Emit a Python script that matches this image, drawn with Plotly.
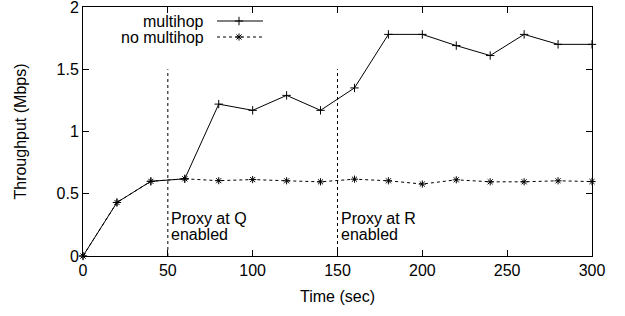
import plotly.graph_objects as go

time_s = [0, 20, 40, 60, 80, 100, 120, 140, 160, 180, 200, 220, 240, 260, 280, 300]
multihop = [0.0, 0.43, 0.60, 0.62, 1.22, 1.17, 1.29, 1.17, 1.35, 1.78, 1.78, 1.69, 1.61, 1.78, 1.70, 1.70]
no_multihop = [0.0, 0.43, 0.60, 0.62, 0.605, 0.614, 0.604, 0.596, 0.617, 0.604, 0.578, 0.612, 0.596, 0.596, 0.604, 0.598]
proxy_times = [50, 150]
proxy_label_line1 = ["Proxy at Q", "Proxy at R"]
proxy_label_line2 = ["enabled", "enabled"]
proxy_line_top = 1.5
x_ticks = [0, 50, 100, 150, 200, 250, 300]
y_ticks = [0, 0.5, 1, 1.5, 2]
y_tick_text = ["0", "0.5", "1", "1.5", "2"]

FONT = "Liberation Sans, Arial, sans-serif"
fig = go.Figure()

fig.add_trace(go.Scatter(
    x=time_s, y=no_multihop, mode="lines+markers",
    line=dict(color="black", width=1, dash="dot"),
    marker=dict(symbol="asterisk-open", size=6, color="black", line=dict(width=1, color="black")),
    showlegend=False, cliponaxis=False))
fig.add_trace(go.Scatter(
    x=time_s, y=multihop, mode="lines+markers",
    line=dict(color="black", width=1),
    marker=dict(symbol="cross-thin-open", size=6, color="black", line=dict(width=1, color="black")),
    showlegend=False, cliponaxis=False))

# Legend samples drawn on an overlay axis in pixel coordinates
fig.add_trace(go.Scatter(
    x=[217, 239, 263], y=[21, 21, 21], mode="lines+markers", xaxis="x2", yaxis="y2",
    line=dict(color="black", width=1),
    marker=dict(symbol="cross-thin-open", size=6, color="black", line=dict(width=1, color="black"),
                opacity=[0, 1, 0]),
    showlegend=False, hoverinfo="skip"))
fig.add_trace(go.Scatter(
    x=[217, 239, 263], y=[37, 37, 37], mode="lines+markers", xaxis="x2", yaxis="y2",
    line=dict(color="black", width=1, dash="dot"),
    marker=dict(symbol="asterisk-open", size=6, color="black", line=dict(width=1, color="black"),
                opacity=[0, 1, 0]),
    showlegend=False, hoverinfo="skip"))

for name, yy in [("multihop", 21), ("no multihop", 37)]:
    fig.add_annotation(x=206, y=yy, xref="x2", yref="y2", text=name, showarrow=False,
                       xanchor="right", yanchor="middle", font=dict(size=16, family=FONT, color="black"))

for t, l1, l2 in zip(proxy_times, proxy_label_line1, proxy_label_line2):
    fig.add_shape(type="line", x0=t, x1=t, y0=0, y1=proxy_line_top, xref="x", yref="y",
                  line=dict(color="black", width=1, dash="dot"))
    fig.add_annotation(x=t, y=0.298, xref="x", yref="y", text=l1, showarrow=False,
                       xanchor="left", yanchor="middle", xshift=1,
                       font=dict(size=16, family=FONT, color="black"))
    fig.add_annotation(x=t, y=0.175, xref="x", yref="y", text=l2, showarrow=False,
                       xanchor="left", yanchor="middle", xshift=1,
                       font=dict(size=16, family=FONT, color="black"))

axis_common = dict(showline=True, linecolor="black", linewidth=1, mirror="ticks",
                   ticks="inside", ticklen=6, tickcolor="black", showgrid=False, zeroline=False,
                   automargin=False, ticklabeloverflow="allow",
                   tickfont=dict(size=16, family=FONT, color="black"))

fig.update_layout(
    width=625, height=316, margin=dict(l=83, r=33, t=7, b=60),
    paper_bgcolor="white", plot_bgcolor="white",
    font=dict(family=FONT, size=16, color="black"),
    xaxis=dict(range=[0, 300], tickvals=x_ticks, title=dict(text="Time (sec)", standoff=12,
               font=dict(size=16, family=FONT)), **axis_common),
    yaxis=dict(range=[0, 2], tickvals=y_ticks, ticktext=y_tick_text,
               title=dict(text="Throughput (Mbps)", standoff=25, font=dict(size=16, family=FONT)),
               **axis_common),
    xaxis2=dict(overlaying="x", range=[83, 592], visible=False, fixedrange=True),
    yaxis2=dict(overlaying="y", range=[256, 7], visible=False, fixedrange=True),
)

fig.write_html("out.html", config={"displayModeBar": False},
               post_script="document.body.style.margin='0';")
